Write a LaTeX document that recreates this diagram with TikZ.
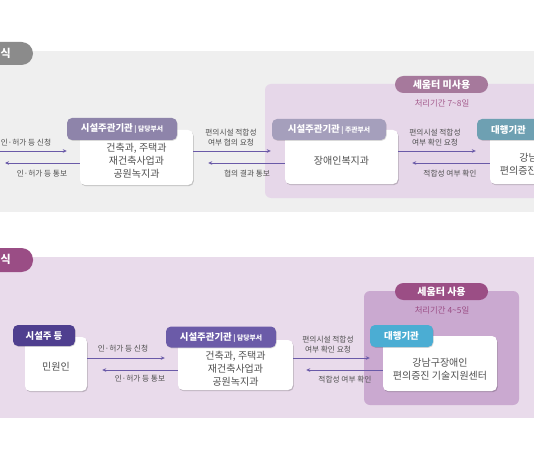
\documentclass[tikz,border=0pt]{standalone}
\usepackage{fontspec}
\setmainfont{Noto Sans CJK KR}
\usetikzlibrary{shadows,arrows.meta}
\definecolor{topbg}{HTML}{EFEFEF}
\definecolor{toptab}{HTML}{8B8B8B}
\definecolor{topregion}{HTML}{E6D7E9}
\definecolor{toppill}{HTML}{A6799C}
\definecolor{topperiod}{HTML}{A55C8D}
\definecolor{tophdra}{HTML}{8E84AA}
\definecolor{tophdrb}{HTML}{A59FBC}
\definecolor{tophdrc}{HTML}{6EA0B2}
\definecolor{botbg}{HTML}{E9DBEB}
\definecolor{bottab}{HTML}{9A4D85}
\definecolor{botregion}{HTML}{CAA9D0}
\definecolor{botpill}{HTML}{9B4E85}
\definecolor{bothdra}{HTML}{4F3F8F}
\definecolor{bothdrb}{HTML}{6B5BA8}
\definecolor{bothdrc}{HTML}{4BADD3}
\definecolor{arrcol}{HTML}{6A5AA8}
\definecolor{txtgray}{HTML}{505050}
\tikzset{
  wbox/.style={fill=white, rounded corners=5pt, inner sep=0pt,
    drop shadow={shadow xshift=0.8pt, shadow yshift=-1.2pt, opacity=0.18, fill=black}},
  btxt/.style={text=txtgray, align=center, inner sep=0pt, font=\fontsize{10}{13}\selectfont},
  hdr/.style={rounded corners=5pt, inner sep=0pt, text=white, font=\bfseries\fontsize{9.4}{11}\selectfont,
    drop shadow={shadow xshift=0.6pt, shadow yshift=-0.8pt, opacity=0.15, fill=black}},
  pill/.style={rounded corners=8.5pt, inner sep=0pt, text=white, font=\bfseries\fontsize{10}{11}\selectfont},
  tab/.style={rounded corners=11.5pt},
  arr/.style={draw=arrcol, line width=0.9pt, -{Stealth[length=4pt,width=3.6pt]}},
  lbl/.style={text=txtgray, align=center, inner sep=0pt, font=\fontsize{7.7}{9.7}\selectfont},
  period/.style={inner sep=0pt, font=\fontsize{8.4}{10}\selectfont},
}
\newcommand{\hsub}[1]{{\fontsize{6.8}{8}\selectfont\ |\ #1}}
\begin{document}
\begin{tikzpicture}[x=1pt,y=-1pt]
\useasboundingbox (0,0) rectangle (534,462);
\clip (0,0) rectangle (534,462);
\fill[white] (0,0) rectangle (534,462);
% ---------------- top section ----------------
\fill[topbg] (0,51) rectangle (534,212);
\fill[toptab, tab] (-30,42) rectangle (33,65);
\node[text=white, font=\bfseries\fontsize{11}{12}\selectfont, anchor=east, inner sep=0pt] (ttab) at (11,53.5) {식};
\fill[topregion, rounded corners=6pt] (265,84) rectangle (560,198);
\node[pill, fill=toppill, minimum width=93, minimum height=17] (tpill) at (441.5,84.5) {세움터 미사용};
\node[period, text=topperiod] (tper) at (442,103) {처리기간 7\textasciitilde8일};

\node[wbox, minimum width=113, minimum height=55] (tb1) at (136.5,157.5) {};
\node[btxt] at ([yshift=-3.5pt]tb1.center) {건축과, 주택과\\재건축사업과\\공원녹지과};
\node[hdr, fill=tophdra, minimum width=110, minimum height=22] (th1) at (122,129) {시설주관기관\hsub{담당부서}};

\node[wbox, minimum width=113, minimum height=54] (tb2) at (341.5,157) {};
\node[btxt] at ([yshift=-4pt]tb2.center) {장애인복지과};
\node[hdr, fill=tophdrb, minimum width=114, minimum height=21] (th2) at (329,129.5) {시설주관기관\hsub{주관부서}};

\node[wbox, minimum width=114, minimum height=54] (tb3) at (547,157) {};
\node[btxt] at ([yshift=-7pt]tb3.center) {강남구장애인\\편의증진 기술지원센터};
\node[hdr, fill=tophdrc, minimum width=63, minimum height=21] (th3) at (508.5,129.5) {대행기관};

\coordinate (tl1) at (-20,151);
\coordinate (tl2) at (-20,163);
\draw[arr, shorten >=13pt] (tl1) -- (tb1.west |- tl1);
\draw[arr, shorten >=-10pt] ([yshift=-5.5pt]tb1.west) -- (tl2 -| 15,0);
\node[lbl] (tlab1) at (26,143) {인·허가 등 신청};
\node[lbl] (tlab2) at (42,173.5) {인·허가 등 통보};

\draw[arr, shorten >=14pt] ([yshift=6.5pt]tb1.east) -- ([yshift=6.5pt]tb1.east -| tb2.west);
\draw[arr, shorten >=15pt] ([yshift=-6pt]tb2.west) -- ([yshift=-6pt]tb2.west -| tb1.east);
\node[lbl] (tlab3) at (231,137.5) {편의시설 적합성\\여부 협의 요청};
\node[lbl] (tlab4) at (247,173.5) {협의 결과 통보};

\draw[arr, shorten >=14pt] ([yshift=6pt]tb2.east) -- ([yshift=6pt]tb2.east -| tb3.west);
\draw[arr, shorten >=14pt] ([yshift=-6pt]tb3.west) -- ([yshift=-6pt]tb3.west -| tb2.east);
\node[lbl] (tlab5) at (435,137.5) {편의시설 적합성\\여부 확인 요청};
\node[lbl] (tlab6) at (450,173.5) {적합성 여부 확인};

% ---------------- bottom section ----------------
\fill[botbg] (0,257) rectangle (534,418);
\fill[bottab, tab] (-30,248) rectangle (33,272);
\node[text=white, font=\bfseries\fontsize{11}{12}\selectfont, anchor=east, inner sep=0pt] (btab) at (11,259.5) {식};
\fill[botregion, rounded corners=6pt] (364,291) rectangle (519,405);
\node[pill, fill=botpill, minimum width=93, minimum height=17] (bpill) at (441.5,291.5) {세움터 사용};
\node[period, text=botpill] (bper) at (442,310) {처리기간 4\textasciitilde5일};

\node[wbox, minimum width=62, minimum height=54] (bb1) at (56,364) {};
\node[btxt] at ([yshift=-3pt]bb1.center) {민원인};
\node[hdr, fill=bothdra, minimum width=62, minimum height=21] (bh1) at (44,335.5) {시설주 등};

\node[wbox, minimum width=115, minimum height=50] (bb2) at (235.5,365) {};
\node[btxt] at ([yshift=-4pt]bb2.center) {건축과, 주택과\\재건축사업과\\공원녹지과};
\node[hdr, fill=bothdrb, minimum width=110, minimum height=21] (bh2) at (221,337) {시설주관기관\hsub{담당부서}};

\node[wbox, minimum width=114, minimum height=55] (bb3) at (440,363.5) {};
\node[btxt] at ([yshift=-5.5pt]bb3.center) {강남구장애인\\편의증진 기술지원센터};
\node[hdr, fill=bothdrc, minimum width=63, minimum height=22] (bh3) at (401.5,336) {대행기관};

\draw[arr, shorten >=13pt] ([yshift=6pt]bb1.east) -- ([yshift=6pt]bb1.east -| bb2.west);
\draw[arr, shorten >=15pt] ([yshift=-5pt]bb2.west) -- ([yshift=-5pt]bb2.west -| bb1.east);
\node[lbl] (blab1) at (123,348.5) {인·허가 등 신청};
\node[lbl] (blab2) at (140,379) {인·허가 등 통보};

\draw[arr, shorten >=13pt] ([yshift=7pt]bb2.east) -- ([yshift=7pt]bb2.east -| bb3.west);
\draw[arr, shorten >=13pt] ([yshift=-6.5pt]bb3.west) -- ([yshift=-6.5pt]bb3.west -| bb2.east);
\node[lbl] (blab3) at (328,344.5) {편의시설 적합성\\여부 확인 요청};
\node[lbl] (blab4) at (345,379.5) {적합성 여부 확인};
\end{tikzpicture}
\end{document}
